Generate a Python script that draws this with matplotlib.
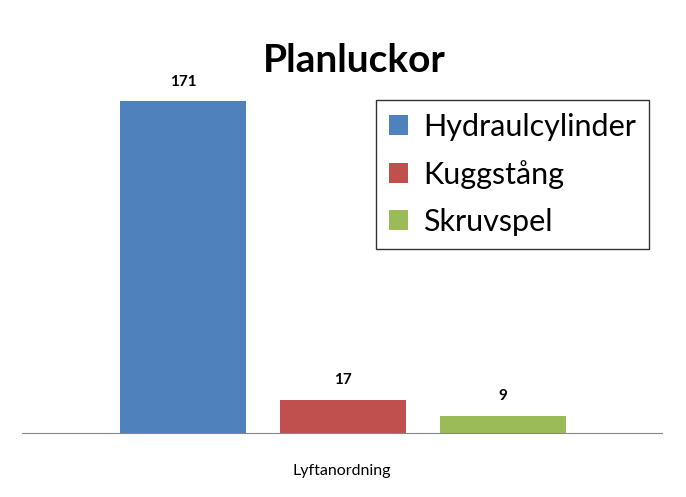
import matplotlib.pyplot as plt
import numpy as np

plt.rcParams['font.family'] = ['Lato', 'DejaVu Sans']

series = ["Hydraulcylinder", "Kuggstång", "Skruvspel"]
values = [171, 17, 9]
colors = ["#4f81bd", "#c0504d", "#9bbb59"]

fig = plt.figure(figsize=(6.86, 4.97), dpi=100)
ax = fig.add_axes([22/686, 1 - 433/497, 640/686, 353/497])

x = np.arange(len(values))
bars = ax.bar(x, values, width=0.79, color=colors, label=series)

for b, v in zip(bars, values):
    ax.annotate(str(v), (b.get_x() + b.get_width()/2, v), xytext=(0, 9),
                textcoords="offset points", ha="center", va="bottom",
                fontsize=11, fontweight="bold")

ax.set_xlim(-1.006, 2.994)
ax.set_ylim(0, 353/1.9415)
for s in ["top", "right", "left"]:
    ax.spines[s].set_visible(False)
ax.spines["bottom"].set_color("#888888")
ax.set_yticks([])
ax.set_xticks([])
ax.set_xlabel("Lyftanordning", fontsize=11.5, labelpad=22, color="black")

fig.text(354/686, 1 - 60/497, "Planluckor", ha="center", va="center",
         fontsize=28, fontweight="bold")

leg = ax.legend(handles=list(bars), labels=series, loc="upper left",
                bbox_to_anchor=(376/686, 1 - 100/497), bbox_transform=fig.transFigure,
                fontsize=22, frameon=True, fancybox=False, edgecolor="black",
                borderaxespad=0, handlelength=0.62, handleheight=0.62,
                labelspacing=0.62, handletextpad=0.5, borderpad=0.42)
leg.get_frame().set_linewidth(1)

fig.savefig("out.png", dpi=100)
